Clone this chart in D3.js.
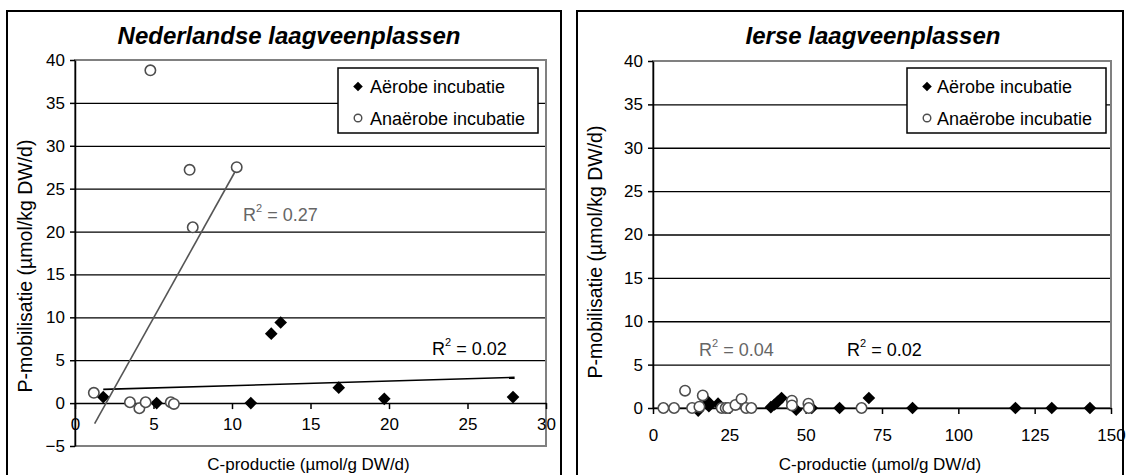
<!DOCTYPE html>
<html>
<head>
<meta charset="utf-8">
<script src="https://cdn.jsdelivr.net/npm/d3@7"></script>
<style>
body { margin: 0; background: #fff; }
svg { font-family: "Liberation Sans", Arial, sans-serif; }
</style>
</head>
<body>
<svg id="chart" width="1129" height="475"></svg>
<script>
// texts
const nlTitle = "Nederlandse laagveenplassen";
const ieTitle = "Ierse laagveenplassen";
const seriesNames = ["Aërobe incubatie", "Anaërobe incubatie"];
const xTitle = "C-productie (µmol/g DW/d)";
const yTitle = "P-mobilisatie (µmol/kg DW/d)";

// ticks
const nlXTicks = [0, 5, 10, 15, 20, 25, 30];
const nlYTicks = [-5, 0, 5, 10, 15, 20, 25, 30, 35, 40];
const ieXTicks = [0, 25, 50, 75, 100, 125, 150];
const ieYTicks = [0, 5, 10, 15, 20, 25, 30, 35, 40];

// Nederlandse laagveenplassen
const nlAerobeX = [1.8, 5.2, 11.2, 12.5, 13.1, 16.8, 19.7, 27.9];
const nlAerobeY = [0.7, 0, 0, 8.1, 9.4, 1.8, 0.5, 0.7];
const nlAnaerobeX = [1.2, 3.5, 4.1, 4.5, 6.1, 6.3, 4.8, 7.3, 7.5, 10.3];
const nlAnaerobeY = [1.2, 0.1, -0.6, 0.1, 0.1, -0.1, 38.8, 27.2, 20.5, 27.5];
const nlTrendAerobeX = [1.8, 28.0];
const nlTrendAerobeY = [1.6, 3.0];
const nlTrendAnaerobeX = [1.25, 10.2];
const nlTrendAnaerobeY = [-2.4, 27.0];
const nlR2 = ["0.02", "0.27"];

// Ierse laagveenplassen
const ieAerobeX = [14.8, 15.4, 18.1, 18.3, 21.3, 38.6, 39.8, 40.8, 42.1, 46.9, 52, 61.1, 70.7, 85, 118.7, 130.6, 143.1];
const ieAerobeY = [-0.3, 0.15, 0.7, 0.2, 0.5, 0.1, 0.4, 0.7, 1.15, -0.2, 0, 0, 1.15, 0, 0, 0, 0];
const ieAnaerobeX = [3.4, 6.9, 10.5, 12.8, 15.2, 16.3, 22.5, 23.8, 24.6, 27, 29, 30.5, 32.2, 45.5, 45.5, 50.9, 51, 68.3];
const ieAnaerobeY = [0, 0, 2.0, 0, 0.15, 1.45, 0, 0, 0, 0.35, 1.05, 0, 0, 0.85, 0.3, 0.5, 0, 0];
const ieR2 = ["0.02", "0.04"];

const svg = d3.select("#chart");
const font = "'Liberation Sans', Arial, sans-serif";
const greyLine = "#555555";

function drawPanel(p) {
    const x = d3.scaleLinear().domain(p.xDomain).range([p.left, p.right]);
    const y = d3.scaleLinear().domain(p.yDomain).range([p.bottom, p.top]);

    // panel frame
    svg.append("rect")
        .attr("x", p.frameX).attr("y", 11)
        .attr("width", p.frameW).attr("height", 480)
        .attr("fill", "none").attr("stroke", "#000").attr("stroke-width", 2);

    // title
    svg.append("text")
        .attr("x", p.titleX).attr("y", 44)
        .attr("text-anchor", "middle")
        .attr("font-size", 24).attr("font-weight", "bold").attr("font-style", "italic")
        .text(p.title);

    // gridlines
    const grid = p.yTicks.filter(v => v !== 0 && v !== p.yDomain[0] && v !== p.yDomain[1]);
    svg.append("g")
        .attr("transform", `translate(${p.left},0)`)
        .call(d3.axisLeft(y).tickValues(grid).tickSize(-(p.right - p.left)).tickFormat(""))
        .call(g => g.select(".domain").remove())
        .selectAll("line").attr("stroke", "#000").attr("stroke-width", 1.3);

    // plot area border
    svg.append("rect")
        .attr("x", p.left).attr("y", p.top)
        .attr("width", p.right - p.left).attr("height", p.bottom - p.top)
        .attr("fill", "none").attr("stroke", "#808080").attr("stroke-width", 2);

    // Y-axis
    svg.append("g")
        .attr("transform", `translate(${p.left},0)`)
        .call(d3.axisLeft(y).tickValues(p.yTicks).tickSize(5).tickSizeOuter(0).tickPadding(5))
        .attr("font-size", 17).attr("font-family", font)
        .call(g => g.selectAll("line, path").attr("stroke-width", 1.5));

    // X-axis
    svg.append("g")
        .attr("transform", `translate(0,${y(0)})`)
        .call(d3.axisBottom(x).tickValues(p.xTicks).tickSize(6).tickSizeOuter(0).tickPadding(p.xPad))
        .attr("font-size", 17).attr("font-family", font)
        .call(g => g.selectAll("line, path").attr("stroke-width", 1.5));

    // Axis-labels
    svg.append("text")
        .attr("x", (p.left + p.right) / 2 - 2).attr("y", 470)
        .attr("text-anchor", "middle").attr("font-size", 17)
        .text(xTitle);

    svg.append("text")
        .attr("transform", `translate(${p.frameX + 25},${p.yTitleY}) rotate(-90)`)
        .attr("text-anchor", "middle").attr("font-size", 19.5)
        .text(yTitle);

    // markers
    const diamond = d3.symbol().type(d3.symbolSquare).size(80);
    svg.append("g").selectAll("path")
        .data(d3.zip(p.aerobeX, p.aerobeY))
        .join("path")
        .attr("d", diamond)
        .attr("transform", d => `translate(${x(d[0])},${y(d[1])}) rotate(45)`)
        .attr("fill", "#000");

    svg.append("g").selectAll("circle")
        .data(d3.zip(p.anaerobeX, p.anaerobeY))
        .join("circle")
        .attr("cx", d => x(d[0])).attr("cy", d => y(d[1]))
        .attr("r", 5.2)
        .attr("fill", "#fff").attr("stroke", "#4d4d4d").attr("stroke-width", 1.6);

    // trendlines
    const line = d3.line().x(d => x(d[0])).y(d => y(d[1]));
    p.trends.forEach(t => {
        svg.append("path")
            .datum(d3.zip(t.x, t.y))
            .attr("d", line)
            .attr("fill", "none").attr("stroke", t.color).attr("stroke-width", 1.6);
    });

    // R2 labels
    p.r2.forEach(r => {
        const t = svg.append("text")
            .attr("x", r.px).attr("y", r.py)
            .attr("font-size", 18).attr("fill", r.color);
        t.append("tspan").text("R");
        t.append("tspan").attr("font-size", 11).attr("dy", -9).text("2");
        t.append("tspan").attr("dy", 9).text(" = " + r.value);
    });

    // legend
    const lg = svg.append("g").attr("transform", `translate(${p.legendX},68)`);
    lg.append("rect")
        .attr("width", p.legendW).attr("height", 65)
        .attr("fill", "#fff").attr("stroke", "#000").attr("stroke-width", 1.5);
    lg.append("path")
        .attr("d", d3.symbol().type(d3.symbolSquare).size(46))
        .attr("transform", `translate(${p.legendSym},18.5) rotate(45)`)
        .attr("fill", "#000");
    lg.append("circle")
        .attr("cx", p.legendSym).attr("cy", 50).attr("r", 3.8)
        .attr("fill", "#fff").attr("stroke", "#4d4d4d").attr("stroke-width", 1.4);
    lg.selectAll("text.item")
        .data(seriesNames)
        .join("text")
        .attr("class", "item")
        .attr("x", p.legendText).attr("y", (d, i) => 25 + i * 31.5)
        .attr("font-size", 18)
        .text(d => d);
}

drawPanel({
    title: nlTitle, titleX: 289,
    frameX: 7, frameW: 554,
    left: 75, right: 546, top: 60, bottom: 446,
    xDomain: [0, 30], yDomain: [-5, 40],
    xTicks: nlXTicks, yTicks: nlYTicks, xPad: 9, yTitleY: 266,
    aerobeX: nlAerobeX, aerobeY: nlAerobeY,
    anaerobeX: nlAnaerobeX, anaerobeY: nlAnaerobeY,
    trends: [
        { x: nlTrendAerobeX, y: nlTrendAerobeY, color: "#000" },
        { x: nlTrendAnaerobeX, y: nlTrendAnaerobeY, color: greyLine }
    ],
    r2: [
        { value: nlR2[0], px: 432, py: 355, color: "#000" },
        { value: nlR2[1], px: 243, py: 221, color: "#666" }
    ],
    legendX: 338, legendW: 200, legendSym: 20, legendText: 32
});

drawPanel({
    title: ieTitle, titleX: 873,
    frameX: 577, frameW: 546,
    left: 653, right: 1111, top: 61, bottom: 408,
    xDomain: [0, 150], yDomain: [0, 40],
    xTicks: ieXTicks, yTicks: ieYTicks, xPad: 15, yTitleY: 252,
    aerobeX: ieAerobeX, aerobeY: ieAerobeY,
    anaerobeX: ieAnaerobeX, anaerobeY: ieAnaerobeY,
    trends: [],
    r2: [
        { value: ieR2[0], px: 847, py: 356, color: "#000" },
        { value: ieR2[1], px: 699, py: 356, color: "#666" }
    ],
    legendX: 907, legendW: 199, legendSym: 20, legendText: 30
});
</script>
</body>
</html>
